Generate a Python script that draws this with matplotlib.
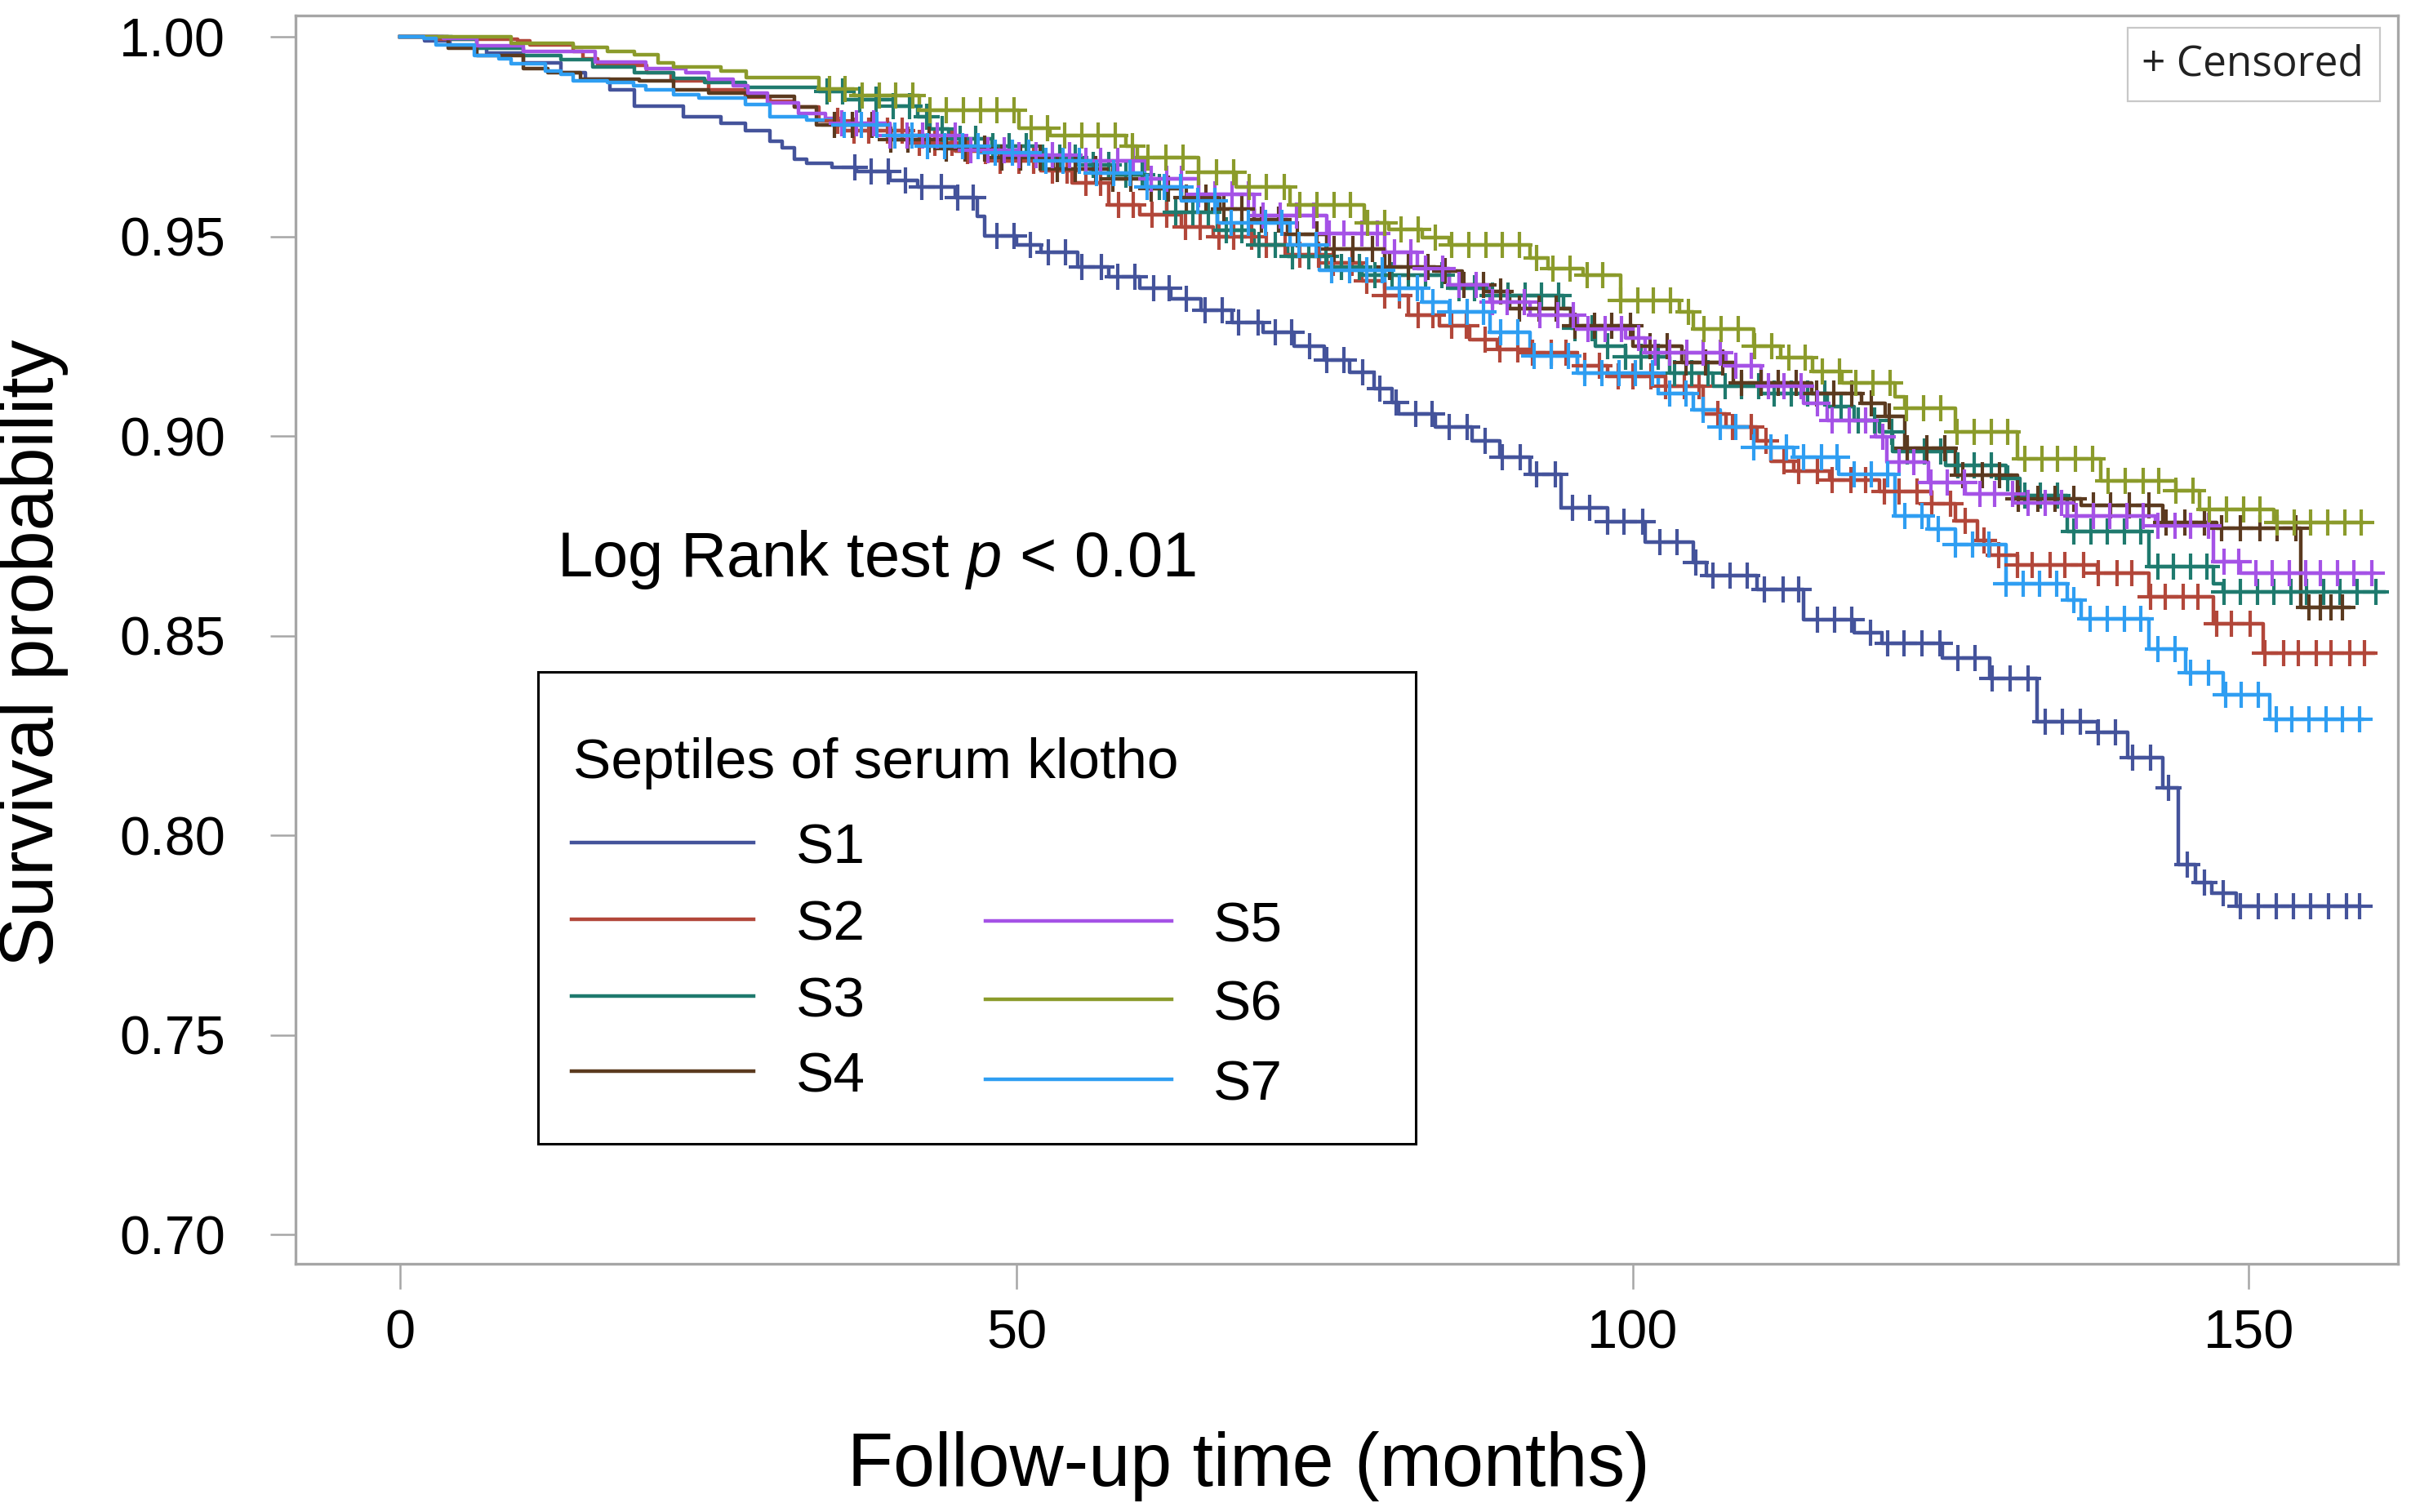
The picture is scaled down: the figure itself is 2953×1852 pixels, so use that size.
import numpy as np
import matplotlib
matplotlib.use("Agg")
import matplotlib.pyplot as plt
from matplotlib.lines import Line2D
from matplotlib.patches import Rectangle

plt.rcParams['font.family'] = ['Liberation Sans', 'DejaVu Sans']
plt.rcParams['mathtext.fontset'] = 'custom'
plt.rcParams['mathtext.rm'] = 'Liberation Sans'
plt.rcParams['mathtext.it'] = 'Liberation Sans:italic'

# Kaplan-Meier step data (time in months, survival after the step)
s1_t = [0, 2, 4, 7, 10, 13, 15, 17, 19, 23, 26, 28, 30, 31, 32, 33, 35, 37, 39.7, 42, 45, 46.8, 47.4,
        50, 52, 55, 57.5, 60, 62.5, 65, 67.5, 70, 72.5, 75, 77, 79, 80.5, 81, 84, 87, 89.2, 91.7, 94.2,
        98, 101, 104.9, 106, 110.1, 113.9, 118, 120.2, 125.1, 129, 132.8, 137.7, 140.2, 143, 144.3,
        145.7, 147, 149]
s1_s = [1.0, 0.999, 0.9975, 0.996, 0.9935, 0.991, 0.9895, 0.9867, 0.9828, 0.980, 0.9785, 0.9765, 0.974,
        0.9722, 0.9695, 0.9683, 0.9673, 0.9663, 0.964, 0.9625, 0.9598, 0.955, 0.9502, 0.948, 0.946,
        0.9425, 0.940, 0.937, 0.9345, 0.9315, 0.9285, 0.926, 0.9225, 0.919, 0.916, 0.912, 0.9085, 0.9057,
        0.9023, 0.8989, 0.8947, 0.8905, 0.882, 0.8786, 0.8735, 0.8684, 0.8651, 0.8617, 0.854, 0.8507,
        0.8481, 0.8445, 0.8394, 0.8284, 0.8258, 0.8195, 0.8119, 0.7928, 0.7882, 0.7855, 0.7823]
s1_end = 159.0

s2_t = [0, 3, 9.5, 10.5, 14, 14.8, 16, 20, 22, 25, 28, 30, 32, 34, 36, 41.2, 45, 48.6, 52, 54.5, 57.5,
        60, 63.4, 66, 69.3, 72, 75.2, 78, 79.9, 81.8, 84.3, 86.8, 89, 91.7, 95.5, 98, 102.7, 105.7,
        107.6, 110.1, 111.2, 113.1, 116, 120, 124.3, 126.2, 128, 129, 131.2, 137.7, 141.9, 147.1, 151.2]
s2_s = [1.0, 0.9995, 0.999, 0.998, 0.9965, 0.9945, 0.993, 0.991, 0.989, 0.9867, 0.985, 0.984, 0.9824,
        0.979, 0.9765, 0.9735, 0.9715, 0.969, 0.9665, 0.9635, 0.958, 0.9555, 0.9525, 0.950, 0.9479,
        0.9455, 0.9434, 0.939, 0.9352, 0.9303, 0.9277, 0.9243, 0.9218, 0.921, 0.9176, 0.915, 0.9125,
        0.9057, 0.9023, 0.8989, 0.8938, 0.8913, 0.889, 0.8862, 0.883, 0.8788, 0.874, 0.8703, 0.8678,
        0.8657, 0.8597, 0.853, 0.8457]
s2_end = 160.1

s3_t = [0, 4.2, 6.2, 10, 13, 15.6, 19, 22.2, 24.7, 28, 34, 36, 40, 42, 43, 44.5, 48, 51.5, 55, 58, 60.4,
        62.2, 66.3, 69.3, 72, 75.2, 78, 85.1, 88.4, 94.4, 95, 97, 99.4, 103, 106.5, 110.4, 115.8, 118,
        120, 121.1, 125.4, 130.3, 131.4, 135.3, 141.9, 147.1, 147.9]
s3_s = [1.0, 0.9994, 0.9972, 0.9953, 0.9943, 0.9925, 0.991, 0.9896, 0.9886, 0.9875, 0.9863, 0.9843,
        0.9826, 0.980, 0.977, 0.9745, 0.9727, 0.9698, 0.968, 0.9655, 0.9625, 0.9561, 0.9516, 0.9479,
        0.945, 0.9424, 0.9404, 0.937, 0.9353, 0.932, 0.927, 0.9226, 0.920, 0.9159, 0.9125, 0.9108,
        0.9074, 0.904, 0.9012, 0.8961, 0.8927, 0.8894, 0.8851, 0.8762, 0.8673, 0.863, 0.861]
s3_end = 161.0

s4_t = [0, 3.9, 6.2, 10, 12, 14.6, 19.4, 22.2, 25, 28.2, 32, 33.8, 39.7, 44, 48.6, 53, 57.5, 60.5, 63.4,
        66.5, 69.3, 72, 75.2, 79.9, 84, 86.2, 88.1, 90, 95, 100, 104, 108.2, 114.5, 118.6, 120.5, 122.1,
        126.2, 131.2, 136.4, 143, 147.4, 154.2]
s4_s = [1.0, 0.9973, 0.9953, 0.9922, 0.991, 0.9894, 0.989, 0.9867, 0.9859, 0.9851, 0.9824, 0.978,
        0.9744, 0.972, 0.9698, 0.967, 0.9644, 0.962, 0.9598, 0.957, 0.9543, 0.9505, 0.947, 0.9424,
        0.9413, 0.9379, 0.9362, 0.932, 0.9277, 0.9226, 0.9184, 0.9133, 0.9108, 0.9082, 0.905, 0.897,
        0.8902, 0.8843, 0.8826, 0.8783, 0.877, 0.8572]
s4_end = 158.1

s5_t = [0, 3.5, 6.2, 10, 15.8, 19.9, 23.2, 25, 27, 28.2, 29.8, 32.3, 34.5, 35.6, 39.7, 45.6, 50, 54.5,
        60.4, 64.8, 69.3, 75.2, 79.9, 82.5, 85.1, 88.4, 91.7, 95.5, 99.4, 101, 107.6, 110.4, 113.9,
        115.8, 119.7, 120.6, 124, 127, 130.9, 135.3, 142.4, 147.1, 149.3]
s5_s = [1.0, 0.9996, 0.9978, 0.9965, 0.9937, 0.9922, 0.991, 0.9894, 0.9878, 0.9859, 0.9836, 0.9808,
        0.9797, 0.9785, 0.9753, 0.9717, 0.9705, 0.969, 0.9644, 0.9607, 0.9552, 0.9507, 0.9461, 0.942,
        0.9379, 0.9336, 0.9303, 0.9269, 0.9247, 0.921, 0.9176, 0.9125, 0.9082, 0.904, 0.8998, 0.8936,
        0.8885, 0.8855, 0.8834, 0.88, 0.8775, 0.8686, 0.8657]
s5_end = 160.1

s6_t = [0, 9, 14, 16.8, 19, 20.9, 22.2, 26, 28.1, 34, 36.8, 42.1, 50.2, 52.7, 58.9, 59.8, 64.8, 67.8,
        72.2, 78.2, 80.2, 82.9, 85.1, 91.7, 93.1, 96, 99, 103.8, 104.9, 109.8, 112, 114.6, 117, 121.3,
        122.1, 126.2, 131.2, 138, 144.1, 146, 152]
s6_s = [1.0, 0.9984, 0.9975, 0.9965, 0.9955, 0.9936, 0.9925, 0.9915, 0.9898, 0.987, 0.9853, 0.9817,
        0.9771, 0.9753, 0.9726, 0.9698, 0.9662, 0.9625, 0.958, 0.9534, 0.9518, 0.9497, 0.948, 0.9447,
        0.9421, 0.9404, 0.934, 0.9311, 0.9269, 0.9226, 0.9197, 0.9163, 0.9133, 0.9099, 0.9071, 0.9012,
        0.8944, 0.8889, 0.8864, 0.8817, 0.8783]
s6_end = 159.2

s7_t = [0, 1.9, 2.9, 6, 8, 9, 11.8, 13, 14, 16.8, 18.9, 19.9, 22.2, 24.2, 28, 30, 33, 35.1, 39.7, 42.7,
        47, 51.5, 56, 60.4, 63.4, 66.3, 72.2, 74.6, 79.9, 82.9, 85.1, 88.4, 91.7, 95.5, 102.1, 104.9,
        107.1, 109.8, 113.1, 116.7, 121.3, 124, 126.2, 130.3, 135.3, 136.4, 141.9, 144.9, 147.9, 151.7]
s7_s = [1.0, 0.9996, 0.998, 0.9953, 0.9945, 0.9933, 0.9914, 0.9906, 0.989, 0.9886, 0.9879, 0.9867,
        0.9855, 0.9847, 0.9831, 0.980, 0.9793, 0.978, 0.9753, 0.9726, 0.971, 0.969, 0.966, 0.9625,
        0.9589, 0.9534, 0.9479, 0.9416, 0.937, 0.9336, 0.9311, 0.926, 0.9201, 0.9159, 0.9108, 0.9066,
        0.9023, 0.8972, 0.8947, 0.8905, 0.880, 0.8767, 0.8729, 0.863, 0.8589, 0.8542, 0.8466, 0.8407,
        0.8352, 0.8292]
s7_end = 159.2

# censoring times (months)
s1_cens = [36.9, 38.2, 39.6, 41.0, 42.3, 43.9, 45.2, 46.5, 48.4, 49.8, 51.1, 52.6, 54.0, 55.3, 56.9,
           58.2, 59.6, 61.1, 62.4, 63.8, 65.3, 66.7, 68.0, 69.6, 71.0, 72.3, 73.8, 75.2, 76.6, 78.1,
           79.5, 80.8, 82.4, 83.7, 85.1, 86.6, 88.0, 89.4, 90.9, 92.2, 93.7, 95.1, 96.5, 98.0, 99.3,
           100.8, 102.2, 103.6, 105.1, 106.5, 107.9, 109.3, 110.7, 112.2, 113.5, 115.0, 116.4, 117.8,
           119.3, 120.7, 122.0, 123.5, 124.9, 126.4, 127.8, 129.2, 130.6, 132.1, 133.5, 134.9, 136.3,
           137.8, 139.2, 140.6, 142.0, 143.5, 145.0, 146.4, 147.9, 149.3, 150.8, 152.2, 153.6, 155.0,
           156.5, 157.9, 159.0]
s2_cens = [35.5, 36.8, 38.0, 39.5, 40.7, 42.1, 43.4, 44.8, 46.0, 47.5, 48.7, 50.2, 51.4, 52.9, 54.1,
           55.6, 56.8, 58.3, 59.5, 61.0, 62.2, 63.7, 64.9, 66.4, 67.6, 69.1, 70.3, 71.8, 73.0, 74.5,
           75.7, 77.2, 78.4, 79.9, 81.1, 82.6, 83.8, 85.3, 86.5, 88.0, 89.2, 90.7, 91.9, 93.4, 94.6,
           96.1, 97.3, 98.8, 100.0, 101.5, 102.7, 104.2, 105.4, 106.9, 108.1, 109.6, 110.8, 112.3,
           113.5, 115.0, 116.2, 117.7, 118.9, 120.4, 121.6, 123.1, 124.3, 125.8, 127.0, 128.5, 129.7,
           131.2, 132.4, 133.9, 135.1, 136.6, 137.8, 139.3, 140.5, 142.0, 143.2, 144.7, 145.9, 147.4,
           148.6, 150.1, 151.3, 152.8, 154.0, 155.5, 156.7, 158.2, 159.4]
s3_cens = [34.6, 35.9, 37.3, 38.6, 40.0, 41.3, 42.7, 44.0, 45.4, 46.7, 48.1, 49.4, 50.8, 52.1, 53.5,
           54.8, 56.2, 57.5, 58.9, 60.2, 61.6, 62.9, 64.3, 65.6, 67.0, 68.3, 69.7, 71.0, 72.4, 73.7,
           75.1, 76.4, 77.8, 79.1, 80.5, 81.8, 83.2, 84.5, 85.9, 87.2, 88.6, 89.9, 91.3, 92.6, 94.0,
           95.3, 96.7, 98.0, 99.4, 100.7, 102.1, 103.4, 104.8, 106.1, 107.5, 108.8, 110.2, 111.5,
           112.9, 114.2, 115.6, 116.9, 118.3, 119.6, 121.0, 122.3, 123.7, 125.0, 126.4, 127.7, 129.1,
           130.4, 131.8, 133.1, 134.5, 135.8, 137.2, 138.5, 139.9, 141.2, 142.6, 143.9, 145.3, 146.6,
           148.0, 149.3, 150.7, 152.0, 153.4, 154.7, 156.1, 157.4, 158.8, 160.3]
s4_cens = [35.2, 36.7, 38.3, 39.8, 41.2, 42.9, 44.3, 45.8, 47.4, 48.8, 50.3, 51.9, 53.3, 54.8, 56.4,
           57.8, 59.3, 60.9, 62.3, 63.8, 65.4, 66.8, 68.3, 69.9, 71.3, 72.8, 74.4, 75.8, 77.3, 78.9,
           80.3, 81.8, 83.4, 84.8, 86.3, 87.9, 89.3, 90.8, 92.4, 93.8, 95.3, 96.9, 98.3, 99.8, 101.4,
           102.8, 104.3, 105.9, 107.3, 108.8, 110.4, 111.8, 113.3, 114.9, 116.3, 117.8, 119.4, 120.8,
           122.3, 123.9, 125.3, 126.8, 128.4, 129.8, 131.3, 132.9, 134.3, 135.8, 137.4, 138.8, 140.3,
           141.9, 143.3, 144.8, 146.4, 147.8, 149.3, 150.9, 152.3, 153.8, 154.9, 155.8, 156.7, 157.6]
s5_cens = [35.8, 37.0, 38.4, 39.7, 41.1, 42.4, 43.6, 45.0, 46.3, 47.7, 49.0, 50.2, 51.6, 52.9, 54.3,
           55.6, 56.8, 58.2, 59.5, 60.9, 62.2, 63.4, 64.8, 66.1, 67.5, 68.8, 70.0, 71.4, 72.7, 74.1,
           75.4, 76.6, 78.0, 79.3, 80.7, 82.0, 83.2, 84.6, 85.9, 87.3, 88.6, 89.8, 91.2, 92.5, 93.9,
           95.2, 96.4, 97.8, 99.1, 100.5, 101.8, 103.0, 104.4, 105.7, 107.1, 108.4, 109.6, 111.0,
           112.3, 113.7, 115.0, 116.2, 117.6, 118.9, 120.3, 121.6, 122.8, 124.2, 125.5, 126.9, 128.2,
           129.4, 130.8, 132.1, 133.5, 134.8, 136.0, 137.4, 138.7, 140.1, 141.4, 142.6, 144.0, 145.3,
           146.7, 148.0, 149.2, 150.6, 151.9, 153.3, 154.6, 155.8, 157.2, 158.5, 160.0]
s6_cens = [34.8, 36.1, 37.5, 38.9, 40.2, 41.6, 43.0, 44.3, 45.7, 47.1, 48.4, 49.8, 51.2, 52.5, 53.9,
           55.3, 56.6, 58.0, 59.4, 60.7, 62.1, 63.5, 64.8, 66.2, 67.6, 68.9, 70.3, 71.7, 73.0, 74.4,
           75.8, 77.1, 78.5, 79.9, 81.2, 82.6, 84.0, 85.3, 86.7, 88.1, 89.4, 90.8, 92.2, 93.5, 94.9,
           96.3, 97.6, 99.0, 100.4, 101.7, 103.1, 104.5, 105.8, 107.2, 108.6, 109.9, 111.3, 112.7,
           114.0, 115.4, 116.8, 118.1, 119.5, 120.9, 122.2, 123.6, 125.0, 126.3, 127.7, 129.1, 130.4,
           131.8, 133.2, 134.5, 135.9, 137.3, 138.6, 140.0, 141.4, 142.7, 144.1, 145.5, 146.8, 148.2,
           149.6, 150.9, 152.3, 153.7, 155.0, 156.4, 157.8, 159.1]
s7_cens = [36.0, 37.4, 38.7, 40.1, 41.5, 42.8, 44.2, 45.6, 46.9, 48.3, 49.7, 51.0, 52.4, 53.8, 55.1,
           56.5, 57.9, 59.2, 60.6, 62.0, 63.3, 64.7, 66.1, 67.4, 68.8, 70.2, 71.5, 72.9, 74.3, 75.6,
           77.0, 78.4, 79.7, 81.1, 82.5, 83.8, 85.2, 86.6, 87.9, 89.3, 90.7, 92.0, 93.4, 94.8, 96.1,
           97.5, 98.9, 100.2, 101.6, 103.0, 104.3, 105.7, 107.1, 108.4, 109.8, 111.2, 112.5, 113.9,
           115.3, 116.6, 118.0, 119.4, 120.7, 122.1, 123.5, 124.8, 126.2, 127.6, 128.9, 130.3, 131.7,
           133.0, 134.4, 135.8, 137.1, 138.5, 139.9, 141.2, 142.6, 144.0, 145.3, 146.7, 148.1, 149.4,
           150.8, 152.2, 153.5, 154.9, 156.3, 157.6, 159.0]

labels = ["S1", "S2", "S3", "S4", "S5", "S6", "S7"]
colors = ["#44539B", "#B2473A", "#1F7A6E", "#5B3A1F", "#A552E6", "#8B9B2B", "#2F9EF2"]

series = [
    (s1_t, s1_s, s1_end, s1_cens),
    (s2_t, s2_s, s2_end, s2_cens),
    (s3_t, s3_s, s3_end, s3_cens),
    (s4_t, s4_s, s4_end, s4_cens),
    (s5_t, s5_s, s5_end, s5_cens),
    (s6_t, s6_s, s6_end, s6_cens),
    (s7_t, s7_s, s7_end, s7_cens),
]

W, H = 2953, 1852
fig = plt.figure(figsize=(W / 100, H / 100), dpi=100)
ax = fig.add_axes([362 / W, 1 - 1548 / H, (2937 - 362) / W, (1548 - 19) / H])

lw = 3.2
for (t, s, t_end, cens), col in zip(series, colors):
    t = np.array(t)
    s = np.array(s)
    ax.plot(np.append(t, t_end), np.append(s, s[-1]), drawstyle="steps-post",
            color=col, lw=lw, zorder=2)
    c = np.array(cens)
    idx = np.searchsorted(t, c, side="right") - 1
    ax.plot(c, s[idx], linestyle="none", marker="+", ms=23, mew=3.0, color=col, zorder=3)

ax.set_xlim(-8.5, 162.1)
ax.set_ylim(0.6927, 1.0054)
ax.set_xticks([0, 50, 100, 150])
ax.set_yticks([0.70, 0.75, 0.80, 0.85, 0.90, 0.95, 1.00])
ax.set_yticklabels(["0.70", "0.75", "0.80", "0.85", "0.90", "0.95", "1.00"])

frame_col = "#A6A6A6"
for sp in ax.spines.values():
    sp.set_color(frame_col)
    sp.set_linewidth(2.4)
ax.tick_params(axis="both", direction="out", length=22, width=1.8, color=frame_col,
               labelsize=48, labelcolor="black")
ax.tick_params(axis="y", pad=40)
ax.tick_params(axis="x", pad=18)

fig.text(41 / W, 1 - 800 / H, "Survival probability", rotation=90, ha="center", va="center",
         fontsize=66)
fig.text(1529 / W, 1 - 1796 / H, "Follow-up time (months)", ha="center", va="center", fontsize=66)

# log rank annotation
fig.text(682 / W, 1 - 706 / H, "Log Rank test $p$ < 0.01", ha="left", va="baseline", fontsize=56)

# group legend (two offset columns as in the original)
fig.add_artist(Rectangle((659 / W, 1 - 1401 / H), (1734 - 659) / W, (1401 - 823) / H,
                         transform=fig.transFigure, fill=False, edgecolor="black", lw=2.2))
fig.text(702 / W, 1 - 953 / H, "Septiles of serum klotho", ha="left", va="baseline", fontsize=50)
leg_pos = [
    (700, 923, 1032, 975),
    (700, 923, 1126, 975),
    (700, 923, 1220, 975),
    (700, 923, 1312, 975),
    (1207, 1435, 1128, 1486),
    (1207, 1435, 1224, 1486),
    (1207, 1435, 1322, 1486),
]
for (x0, x1, yl, xt), lab, col in zip(leg_pos, labels, colors):
    fig.add_artist(Line2D([x0 / W, x1 / W], [1 - yl / H, 1 - yl / H], transform=fig.transFigure,
                          color=col, lw=lw))
    fig.text(xt / W, 1 - (yl + 25) / H, lab, ha="left", va="baseline", fontsize=50)

# censored key
fig.add_artist(Rectangle((2606 / W, 1 - 124 / H), (2915 - 2606) / W, (124 - 34) / H,
                         transform=fig.transFigure, fill=False, edgecolor="#C8C8C8", lw=1.6))
fig.text(2623 / W, 1 - 79 / H, "+ Censored", ha="left", va="center", fontsize=37,
         family=["Open Sans", "DejaVu Sans"], color="#222222")

fig.savefig("out.png", dpi=100)
